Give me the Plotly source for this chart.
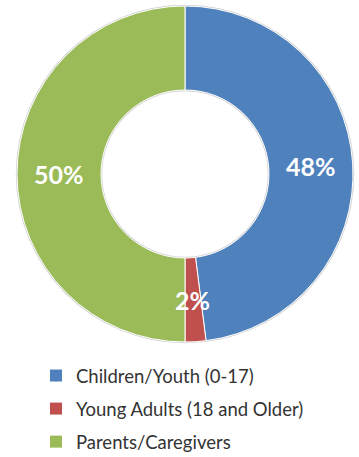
import math
import plotly.graph_objects as go

# Share of participants by group
groups = ["Children/Youth (0-17)", "Young Adults (18 and Older)", "Parents/Caregivers"]
shares = [48, 2, 50]
colors = ["#4F81BD", "#C0504D", "#9BBB59"]

W, H = 359, 457
HOLE = 0.5
# Pie domain in pixels (left, right, top, bottom)
PX_L, PX_R, PX_T, PX_B = 17, 353, 6, 342
EDGE = 1.2  # width of the soft grey rim around the ring

fig = go.Figure()

# Soft grey rim drawn behind the ring
cx, cy = (PX_L + PX_R) / 2, (PX_T + PX_B) / 2
radius = min(PX_R - PX_L, PX_B - PX_T) / 2
fig.add_trace(
    go.Pie(
        values=[1],
        labels=["rim"],
        hole=(radius * HOLE - EDGE) / (radius + EDGE),
        marker=dict(colors=["#cfcfcf"], line=dict(width=0)),
        textinfo="none",
        hoverinfo="skip",
        showlegend=False,
        sort=False,
        domain=dict(
            x=[(PX_L - EDGE) / W, (PX_R + EDGE) / W],
            y=[1 - (PX_B + EDGE) / H, 1 - (PX_T - EDGE) / H],
        ),
    )
)

fig.add_trace(
    go.Pie(
        labels=groups,
        values=shares,
        hole=HOLE,
        sort=False,
        direction="clockwise",
        rotation=0,
        marker=dict(colors=colors, line=dict(color="white", width=1)),
        textinfo="none",
        hoverinfo="label+percent",
        showlegend=False,
        domain=dict(x=[PX_L / W, PX_R / W], y=[1 - PX_B / H, 1 - PX_T / H]),
    )
)

# Percentage labels placed at the middle of each ring segment
r_mid = radius * (1 + HOLE) / 2
total = sum(shares)
cum = 0
for v in shares:
    ang = 2 * math.pi * (cum + v / 2) / total
    cum += v
    x = cx + r_mid * math.sin(ang)
    y = cy - r_mid * math.cos(ang)
    fig.add_annotation(
        x=x / W,
        y=1 - y / H,
        xref="paper",
        yref="paper",
        text=f"{v}%",
        showarrow=False,
        font=dict(family="Lato", size=25, color="white", weight="bold"),
        xanchor="center",
        yanchor="middle",
    )

# Legend entries, one group per slice so the row gap can be set
for name, col in zip(groups, colors):
    fig.add_trace(
        go.Scatter(
            x=[None],
            y=[None],
            mode="markers",
            name=name,
            legendgroup=name,
            marker=dict(symbol="square", size=10, color=col),
            hoverinfo="skip",
        )
    )

fig.update_layout(
    width=W,
    height=H,
    margin=dict(l=0, r=0, t=0, b=0, autoexpand=False),
    paper_bgcolor="white",
    plot_bgcolor="white",
    xaxis=dict(visible=False),
    yaxis=dict(visible=False),
    showlegend=True,
    legend=dict(
        x=36 / W,
        y=-4 / H,
        xanchor="left",
        yanchor="bottom",
        orientation="v",
        font=dict(family="Lato", size=18.5, color="#333333"),
        tracegroupgap=6,
        itemsizing="constant",
        bgcolor="rgba(0,0,0,0)",
    ),
)

fig.write_html("out.html")
